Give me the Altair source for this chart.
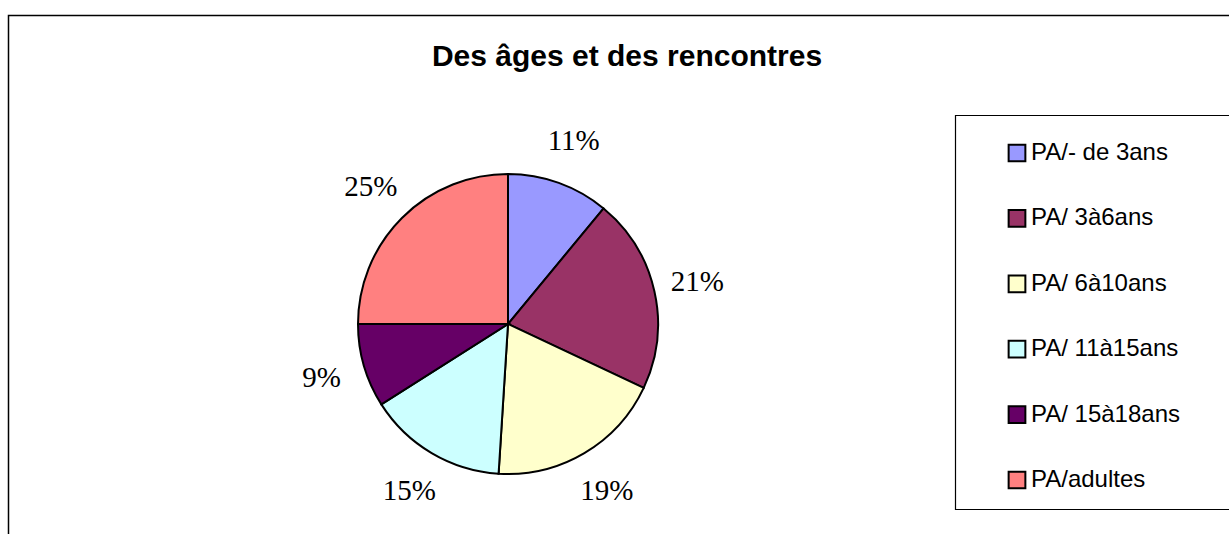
import altair as alt
import pandas as pd

title_text = "Des âges et des rencontres"
categories = ["PA/- de 3ans", "PA/ 3à6ans", "PA/ 6à10ans", "PA/ 11à15ans", "PA/ 15à18ans", "PA/adultes"]
values = [11, 21, 19, 15, 9, 25]
labels = ["11%", "21%", "19%", "15%", "9%", "25%"]
colors = ["#9999FF", "#993366", "#FFFFCC", "#CCFFFF", "#660066", "#FF8080"]

df = pd.DataFrame({
    "cat": categories,
    "val": values,
    "lab": labels,
    "idx": list(range(len(categories))),
})

W, H = 1229, 534
CX, CY = 508, 324

base = alt.Chart(df)

border = alt.Chart(pd.DataFrame({"a": [0]})).mark_rect(
    fill="white", stroke="#000000", strokeWidth=1.5
).encode(x=alt.value(8.5), y=alt.value(15.5), x2=alt.value(1250), y2=alt.value(560))

legend_box = alt.Chart(pd.DataFrame({"a": [0]})).mark_rect(
    fill="white", stroke="#000000", strokeWidth=1.2
).encode(x=alt.value(955.5), y=alt.value(115.5), x2=alt.value(1250), y2=alt.value(509.5))

title = alt.Chart(pd.DataFrame({"t": [title_text]})).mark_text(
    font="Liberation Sans", fontWeight="bold", fontSize=30, color="black",
    align="center", baseline="middle"
).encode(text="t:N", x=alt.value(627), y=alt.value(57))

color_enc = alt.Color(
    "cat:N",
    scale=alt.Scale(domain=categories, range=colors),
    legend=alt.Legend(
        title=None, orient="none", legendX=1005, legendY=141,
        symbolType="square", symbolSize=280, symbolStrokeColor="black",
        symbolStrokeWidth=2, symbolOpacity=1,
        labelFont="Liberation Sans", labelFontSize=24, labelColor="black",
        labelOffset=2, rowPadding=39.4, padding=0, labelLimit=300,
    ),
)

pie = base.mark_arc(outerRadius=150, stroke="black", strokeWidth=2).encode(
    theta=alt.Theta("val:Q", stack=True),
    color=color_enc,
    order=alt.Order("idx:Q"),
    x=alt.value(CX), y=alt.value(CY),
)

text = base.mark_text(
    radius=194, font="Liberation Serif", fontSize=29, color="black",
    align="center", baseline="middle"
).encode(
    theta=alt.Theta("val:Q", stack=True),
    order=alt.Order("idx:Q"),
    text="lab:N",
    x=alt.value(CX), y=alt.value(CY),
)

chart = alt.layer(border, legend_box, title, pie, text).properties(
    width=W, height=H, autosize=alt.AutoSizeParams(type="none"), padding=0,
    background="white",
).configure_view(stroke=None)

chart.save("out.html", embed_options={"renderer": "svg", "actions": False})
